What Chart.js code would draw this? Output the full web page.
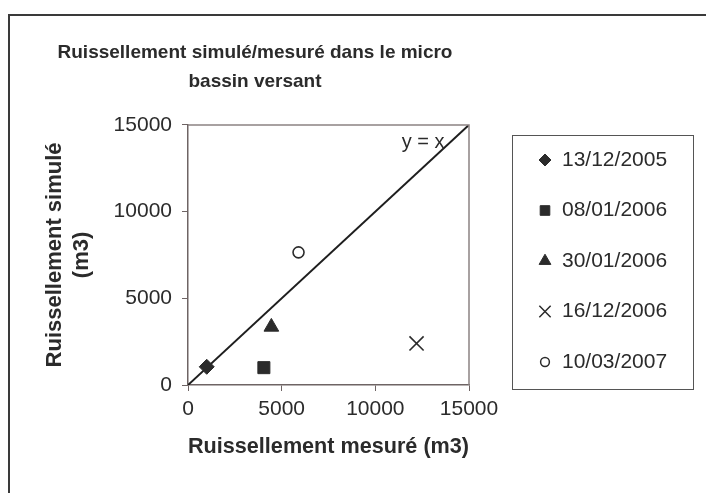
<!DOCTYPE html>
<html>
<head>
<meta charset="utf-8">
<script src="https://cdn.jsdelivr.net/npm/chart.js@4/dist/chart.umd.min.js"></script>
<style>
  html, body { margin: 0; padding: 0; background: #fff; }
  #wrap { position: relative; width: 706px; height: 493px; }
</style>
</head>
<body>
<div id="wrap"><canvas id="myChart"></canvas></div>
<script>
// dates of the runoff events (legend)
const eventLabels = ['13/12/2005', '08/01/2006', '30/01/2006', '16/12/2006', '10/03/2007'];
// measured runoff (m3), x axis
const measured = [1000, 4050, 4450, 12200, 5900];
// simulated runoff (m3), y axis
const simulated = [1050, 1000, 3350, 2400, 7650];
// marker per event
const markers = ['rectRot', 'rect', 'triangle', 'crossRot', 'circle'];
const markerSize = [7.5, 8.5, 8.5, 10, 5.5];
// y = x reference line
const refLine = [0, 15000];
const tickStep = 5000;

const ink = '#2b2b2b';

const datasets = eventLabels.map((lab, i) => ({
  type: 'scatter',
  label: lab,
  data: [{ x: measured[i], y: simulated[i] }],
  pointStyle: markers[i],
  pointRadius: markerSize[i],
  pointHoverRadius: markerSize[i],
  backgroundColor: markers[i] === 'circle' ? '#fff' : ink,
  borderColor: ink,
  pointBorderWidth: markers[i] === 'circle' || markers[i] === 'crossRot' ? 1.6 : 1,
  order: 1
}));

datasets.push({
  type: 'line',
  label: 'y = x',
  data: refLine.map(v => ({ x: v, y: v })),
  borderColor: '#1e1e1e',
  borderWidth: 2,
  pointRadius: 0,
  fill: false,
  order: 2
});

// frame, top/right plot border, "y = x" note and the boxed legend
const extras = {
  id: 'extras',
  beforeDraw(chart) {
    const ctx = chart.ctx;
    ctx.save();
    ctx.strokeStyle = '#3a3a3a';
    ctx.lineWidth = 2;
    ctx.strokeRect(9, 15, 1000, 1000);
    ctx.restore();
  },
  afterDraw(chart) {
    const ctx = chart.ctx;
    const a = chart.chartArea;
    const xs = chart.scales.x, ys = chart.scales.y;
    ctx.save();
    ctx.strokeStyle = '#8c8282';
    ctx.lineWidth = 1.5;
    ctx.beginPath();
    ctx.moveTo(a.left, a.top);
    ctx.lineTo(a.right, a.top);
    ctx.lineTo(a.right, a.bottom);
    ctx.stroke();

    ctx.fillStyle = ink;
    ctx.font = '20px "Liberation Sans", Arial, sans-serif';
    ctx.textAlign = 'center';
    ctx.textBaseline = 'middle';
    ctx.fillText('y = x', xs.getPixelForValue(12550), ys.getPixelForValue(14000));

    // legend box
    const bx = 512, by = 135, bw = 181, bh = 254;
    ctx.strokeStyle = '#555';
    ctx.lineWidth = 1;
    ctx.strokeRect(bx + 0.5, by + 0.5, bw, bh);
    ctx.textAlign = 'left';
    ctx.font = '21px "Liberation Sans", Arial, sans-serif';
    eventLabels.forEach((lab, i) => {
      const cy = by + 25 + i * 50.5;
      const open = markers[i] === 'circle' || markers[i] === 'crossRot';
      ctx.fillStyle = markers[i] === 'circle' ? '#fff' : ink;
      ctx.strokeStyle = ink;
      ctx.lineWidth = open ? 1.5 : 1;
      Chart.helpers.drawPoint(ctx, {
        pointStyle: markers[i],
        radius: markerSize[i] * 0.8,
        rotation: 0,
        borderWidth: open ? 1.5 : 1
      }, 545, cy);
      ctx.fillStyle = ink;
      ctx.fillText(lab, 562, cy);
    });
    ctx.restore();
  }
};

Chart.defaults.font.family = '"Liberation Sans", Arial, sans-serif';
Chart.defaults.color = ink;

const plainTick = v => String(v);

const ctx = document.getElementById('myChart');
new Chart(ctx, {
  type: 'scatter',
  data: { datasets: datasets },
  options: {
    responsive: true,
    maintainAspectRatio: false,
    animation: false,
    layout: { padding: { left: 41, right: 237, top: 0, bottom: 0 } },
    plugins: {
      legend: { display: false },
      tooltip: { enabled: false },
      title: {
        display: true,
        text: ['Ruissellement simulé/mesuré dans le micro', 'bassin versant'],
        color: ink,
        font: { size: 19, weight: 'bold', lineHeight: 1.55 },
        padding: { top: 38, bottom: 28 }
      }
    },
    scales: {
      x: {
        type: 'linear',
        min: refLine[0],
        max: refLine[1],
        ticks: { stepSize: tickStep, font: { size: 21 }, color: ink, padding: 6, maxRotation: 0, callback: plainTick },
        grid: { drawOnChartArea: false, drawTicks: true, tickLength: 6, color: '#6e6464' },
        border: { color: '#6e6464', width: 1.5 },
        title: {
          display: true,
          text: 'Ruissellement mesuré (m3)',
          color: ink,
          font: { size: 22, weight: 'bold', lineHeight: 1.2 },
          padding: { top: 0, bottom: 33 }
        },
        afterFit(scale) { scale.height = 108; }
      },
      y: {
        type: 'linear',
        min: refLine[0],
        max: refLine[1],
        ticks: { stepSize: tickStep, font: { size: 21 }, color: ink, padding: 10, callback: plainTick },
        grid: { drawOnChartArea: false, drawTicks: true, tickLength: 6, color: '#6e6464' },
        border: { color: '#6e6464', width: 1.5 },
        title: {
          display: true,
          text: ['Ruissellement simulé', '(m3)'],
          color: ink,
          font: { size: 22, weight: 'bold', lineHeight: 1.2 },
          padding: { top: 1, bottom: 0 }
        },
        afterFit(scale) { scale.width = 147; }
      }
    }
  },
  plugins: [extras]
});
</script>
</body>
</html>
